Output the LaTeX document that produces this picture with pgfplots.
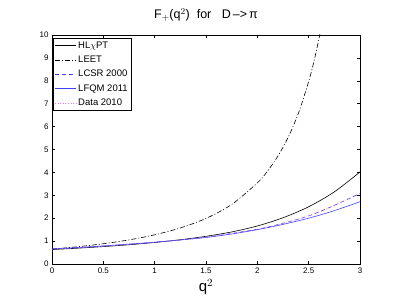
\documentclass[border=0pt]{standalone}
\usepackage{pgfplots}
\pgfplotsset{compat=1.18}
\usepackage{fontspec}
\setmainfont{Liberation Sans}
\definecolor{mblue}{rgb}{0.25,0.25,1}
\definecolor{dmag}{rgb}{1,0.45,0.85}
\begin{document}
\begin{tikzpicture}
\begin{axis}[
  scale only axis, width=308pt, height=229pt,
  xmin=0, xmax=3, ymin=0, ymax=10,
  xtick={0,0.5,1,1.5,2,2.5,3},
  xticklabels={0,0.5,1,1.5,2,2.5,3},
  ytick={0,1,2,3,4,5,6,7,8,9,10},
  /pgf/number format/assume math mode=true,
  tick align=inside, tick pos=both,
  major tick length=3pt,
  tick style={black, line width=0.4pt},
  axis line style={line width=0.5pt},
  ticklabel style={font=\fontsize{8}{9}\selectfont},
  title={F$_+$(q$^2$)\ \ for\ \ \ D\,–>\,π},
  title style={font=\fontsize{12.5}{13}\selectfont, at={(0.5,1)}, anchor=south, yshift=4pt},
  xlabel={q$^2$},
  xlabel style={font=\fontsize{15}{16}\selectfont, at={(0.5,0)}, anchor=north, yshift=-12pt},
  legend style={at={(0.003,0.987)}, anchor=north west, draw=black, line width=0.4pt,
    font=\fontsize{9.5}{10}\selectfont, inner sep=1.5pt, row sep=2.2pt,
    legend cell align=left},
  legend image code/.code={\draw[#1] (0pt,0pt) -- (21pt,0pt);},
]
\addplot[black, line width=0.6pt, smooth] coordinates {
(0,0.63) (0.25,0.69) (0.5,0.76) (0.75,0.84) (1.0,0.94) (1.25,1.06) (1.5,1.21)
(1.75,1.40) (2.0,1.66) (2.25,2.02) (2.5,2.50) (2.75,3.15) (3.0,4.02)};
\addlegendentry{HL$\chi$PT}
\addplot[black, line width=0.6pt, dash pattern=on 5pt off 2pt on 1pt off 2pt, smooth] coordinates {
(0,0.65) (0.25,0.754) (0.5,0.884) (0.75,1.053) (1.0,1.274) (1.25,1.574) (1.5,1.99)
(1.75,2.60) (2.0,3.54) (2.1,4.06) (2.2,4.71) (2.3,5.53) (2.4,6.58) (2.5,7.97)
(2.55,8.82) (2.6,9.83) (2.65,11.0)};
\addlegendentry{LEET}
\addplot[mblue, line width=0.6pt, dash pattern=on 4pt off 3pt, smooth] coordinates {
(0,0.65) (0.5,0.78) (1.0,0.95) (1.5,1.17) (2.0,1.52) (2.25,1.78) (2.5,2.10)
(2.75,2.56) (3.0,3.08)};
\addlegendentry{LCSR 2000}
\addplot[mblue, line width=0.6pt, smooth] coordinates {
(0,0.66) (0.25,0.72) (0.5,0.79) (0.75,0.87) (1.0,0.95) (1.25,1.05) (1.5,1.16)
(1.75,1.31) (2.0,1.50) (2.25,1.73) (2.5,2.00) (2.75,2.33) (3.0,2.72)};
\addlegendentry{LFQM 2011}
\addplot[dmag, line width=0.6pt, dotted, smooth] coordinates {
(0,0.65) (0.5,0.78) (1.0,0.95) (1.5,1.17) (2.0,1.52) (2.25,1.78) (2.5,2.11)
(2.75,2.57) (3.0,3.10)};
\addlegendentry{Data 2010}
\end{axis}
\path (-52pt,-36pt) rectangle (347pt,264pt);
\end{tikzpicture}
\end{document}
